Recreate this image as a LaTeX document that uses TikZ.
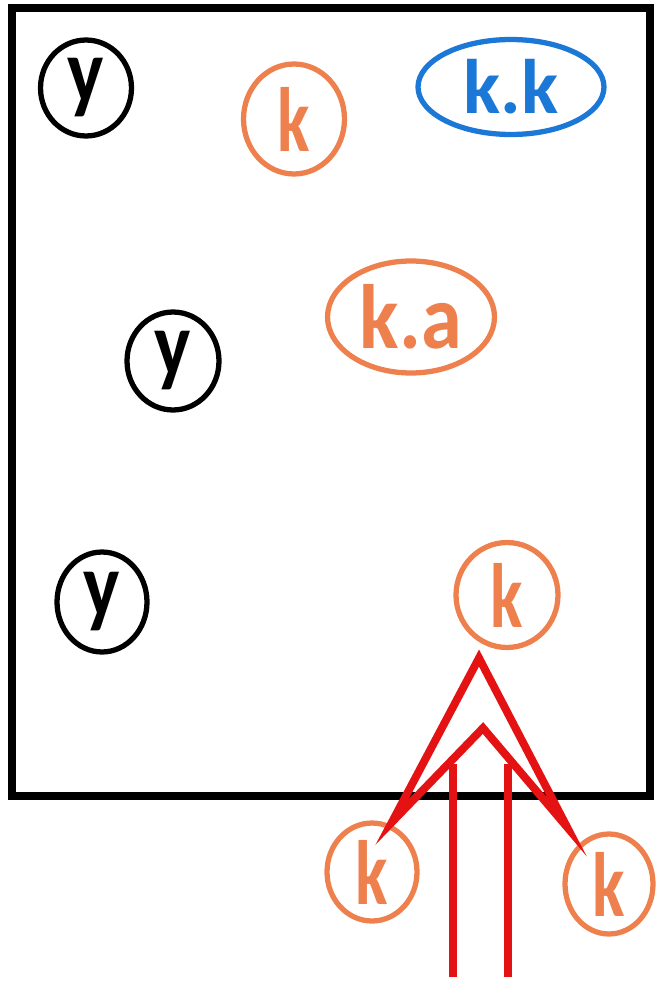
\documentclass[tikz,border=0pt]{standalone}
\usepackage{fontspec}
\setmainfont{Carlito}
\newfontfamily\fk{Carlito}[FakeStretch=0.74]
\newfontfamily\fy{Carlito}[FakeStretch=0.84]
\newfontfamily\fka{Carlito}[FakeStretch=0.9]
\usetikzlibrary{shapes.geometric}
\definecolor{orng}{RGB}{238,128,78}
\definecolor{blu}{RGB}{27,120,214}
\definecolor{rd}{RGB}{228,18,18}
\tikzset{
  lbl/.style={ellipse, draw, line width=3pt, inner sep=0pt},
  big/.style={font=\fontsize{52}{52}\selectfont\bfseries},
  blk/.style={lbl, draw=black, text=black, big, font=\fy\fontsize{52}{52}\selectfont\bfseries},
  org/.style={lbl, draw=orng, text=orng, font=\fk\fontsize{52}{52}\selectfont\bfseries},
  orgwide/.style={lbl, draw=orng, text=orng, font=\fka\fontsize{52}{52}\selectfont\bfseries},
  bluenode/.style={lbl, draw=blu, text=blu, font=\fontsize{44}{44}\selectfont\bfseries},
  redline/.style={draw=rd, line width=4.5pt}
}
\begin{document}
\begin{tikzpicture}[x=0.02cm,y=-0.02cm]
\useasboundingbox (0,0) rectangle (656,987);
\draw[line width=4pt] (12,8) rectangle (650,796);
\node[blk, minimum width=1.82cm, minimum height=1.92cm] (y1) at (86,88) {y};
\node[org, minimum width=2.02cm, minimum height=2.20cm] (k1) at (294,119) {k};
\node[bluenode, minimum width=3.72cm, minimum height=1.90cm] (kk) at (511,87) {k.k};
\node[orgwide, minimum width=3.34cm, minimum height=2.24cm] (ka) at (411,317) {k.a};
\node[blk, minimum width=1.84cm, minimum height=1.96cm] (y2) at (173,361) {y};
\node[blk, minimum width=1.80cm, minimum height=2.00cm] (y3) at (102,602) {y};
\node[org, minimum width=2.04cm, minimum height=2.10cm] (k4) at (507,595) {k};
\node[org, minimum width=1.80cm, minimum height=1.96cm] (k5) at (372,872) {k};
\node[org, minimum width=1.76cm, minimum height=2.00cm] (k6) at (609,884) {k};
% double arrow pointing up to k4
\coordinate (tip) at (479,658);
\coordinate (lc) at (392,822);
\coordinate (rc) at (567,827);
\coordinate (notch) at (483,728);
\coordinate (l1b) at (453,977);
\coordinate (l1t) at (453,764);
\coordinate (l2b) at (508,977);
\coordinate (l2t) at (508,764);
\draw[redline, line join=miter] (lc) -- (tip) -- (rc) -- (notch) -- cycle;
\draw[redline] (l1b) -- (l1t);
\draw[redline] (l2b) -- (l2t);
\end{tikzpicture}
\end{document}
